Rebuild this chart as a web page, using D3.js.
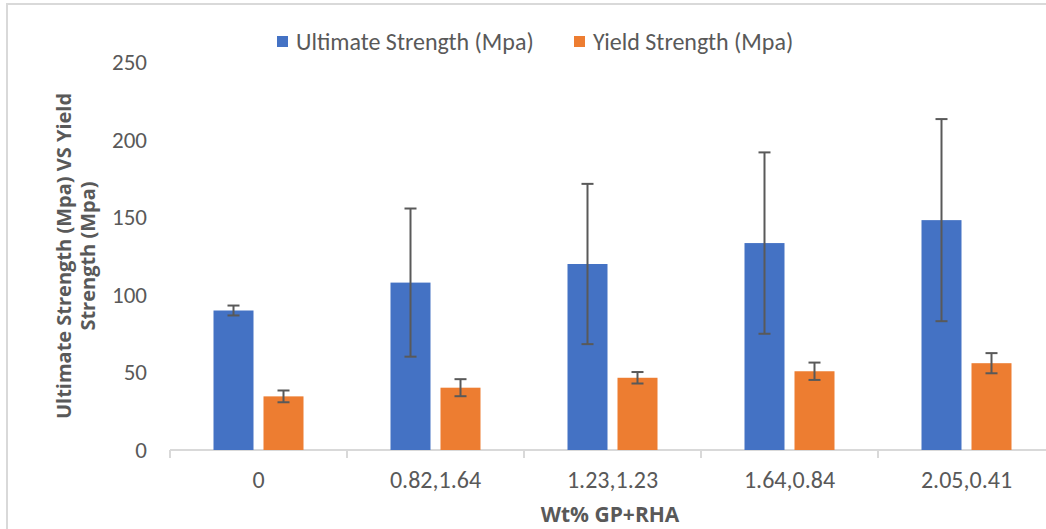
<!DOCTYPE html>
<html>
<head>
<meta charset="utf-8">
<script src="https://cdn.jsdelivr.net/npm/d3@7"></script>
<style>
  html, body { margin: 0; padding: 0; background: #fff; overflow: hidden; }
  svg { display: block; font-family: Carlito, Lato, "Open Sans", sans-serif; }
</style>
</head>
<body>
<svg id="chart" width="1046" height="529"></svg>
<script>
const categories = ["0", "0.82,1.64", "1.23,1.23", "1.64,0.84", "2.05,0.41"];
const seriesNames = ["Ultimate Strength (Mpa)", "Yield Strength (Mpa)"];
const ultimate = [90, 108, 120, 133.5, 148.3];
const ultimateErr = [3.2, 47.8, 51.7, 58.5, 65.2];
const yieldS = [34.6, 40.2, 46.6, 50.8, 56];
const yieldErr = [3.8, 5.5, 3.7, 5.6, 6.5];
const yTicks = [0, 50, 100, 150, 200, 250];
const colors = ["#4472c4", "#ed7d31"];
const xTitle = "Wt% GP+RHA";
const yTitleLines = ["Ultimate Strength (Mpa) VS Yield", "Strength (Mpa)"];

const svg = d3.select("#chart");

// chart border
svg.append("path")
  .attr("d", "M7,529 V4 H1046")
  .attr("fill", "none").attr("stroke", "#d9d9d9").attr("stroke-width", 2);

const x0 = d3.scaleBand().domain(categories).range([170, 1055]).paddingInner(0).paddingOuter(0);
const y = d3.scaleLinear().domain([0, 250]).range([450, 62.5]);
const barW = 40, gap = 10;

// y axis labels
svg.append("g").selectAll("text").data(yTicks).join("text")
  .attr("x", 147).attr("y", d => y(d) + 7.5)
  .attr("text-anchor", "end").attr("fill", "#595959").attr("font-size", 23)
  .text(d => d);

// x axis line and ticks
const xAxis = d3.axisBottom(x0).tickSize(0).tickFormat("");
const gx = svg.append("g").attr("transform", "translate(0,450)").call(xAxis);
gx.select(".domain").attr("stroke", "#d9d9d9").attr("stroke-width", 2).attr("d", "M170,0H1046");
svg.append("g").selectAll("line").data(categories).join("line")
  .attr("x1", d => x0(d)).attr("x2", d => x0(d))
  .attr("y1", 450).attr("y2", 458)
  .attr("stroke", "#d9d9d9").attr("stroke-width", 2);

// x labels
svg.append("g").selectAll("text").data(categories).join("text")
  .attr("x", d => x0(d) + x0.bandwidth() / 2).attr("y", 488)
  .attr("text-anchor", "middle").attr("fill", "#595959").attr("font-size", 24)
  .text(d => d);

const series = [
  { vals: ultimate, errs: ultimateErr, color: colors[0], off: -gap / 2 - barW },
  { vals: yieldS, errs: yieldErr, color: colors[1], off: gap / 2 }
];

series.forEach(s => {
  const g = svg.append("g");
  g.selectAll("rect").data(categories).join("rect")
    .attr("x", (d) => x0(d) + x0.bandwidth() / 2 + s.off)
    .attr("width", barW)
    .attr("y", (d, i) => y(s.vals[i]))
    .attr("height", (d, i) => y(0) - y(s.vals[i]))
    .attr("fill", s.color);
  const eg = svg.append("g").attr("stroke", "#595959").attr("stroke-width", 2);
  categories.forEach((c, i) => {
    const cx = x0(c) + x0.bandwidth() / 2 + s.off + barW / 2;
    const top = y(s.vals[i] + s.errs[i]), bot = y(s.vals[i] - s.errs[i]);
    eg.append("line").attr("x1", cx).attr("x2", cx).attr("y1", top).attr("y2", bot);
    eg.append("line").attr("x1", cx - 6).attr("x2", cx + 6).attr("y1", top).attr("y2", top);
    eg.append("line").attr("x1", cx - 6).attr("x2", cx + 6).attr("y1", bot).attr("y2", bot);
  });
});

// legend
const legendX = [277, 574];
seriesNames.forEach((n, i) => {
  svg.append("rect").attr("x", legendX[i]).attr("y", 36).attr("width", 11).attr("height", 11).attr("fill", colors[i]);
  svg.append("text").attr("x", legendX[i] + 19).attr("y", 50)
    .attr("fill", "#595959").attr("font-size", 24).text(n);
});

// axis titles
svg.append("text").attr("x", 610).attr("y", 522)
  .attr("text-anchor", "middle").attr("fill", "#595959")
  .attr("font-family", "'Open Sans', Lato, sans-serif")
  .attr("font-size", 21).attr("font-weight", "bold")
  .text(xTitle);

const yt = svg.append("text").attr("transform", "translate(0,256) rotate(-90)")
  .attr("text-anchor", "middle").attr("fill", "#595959")
  .attr("font-family", "'Open Sans', Lato, sans-serif")
  .attr("font-size", 20).attr("font-weight", "bold");
yTitleLines.forEach((l, i) => {
  yt.append("tspan").attr("x", 0).attr("y", 71 + i * 24).text(l);
});
</script>
</body>
</html>
